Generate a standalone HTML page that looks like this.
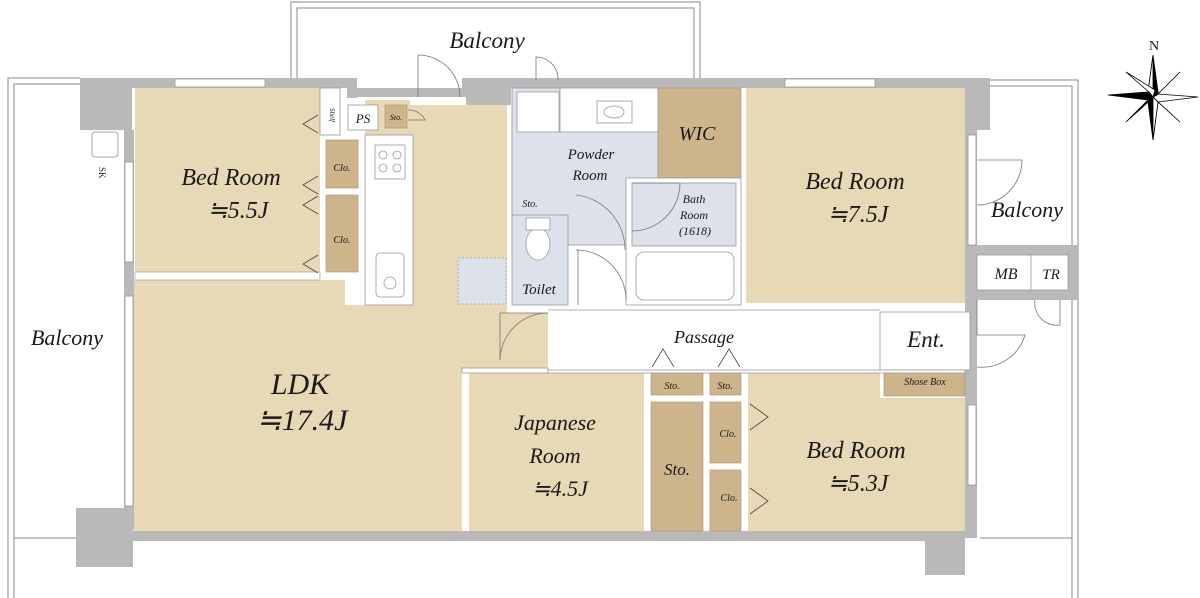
<!DOCTYPE html>
<html><head><meta charset="utf-8"><style>
html,body{margin:0;padding:0;background:#fff;width:1200px;height:598px;overflow:hidden}
svg{display:block}
text{font-family:"Liberation Serif",serif;font-style:italic;fill:#1a1a1a}
</style></head><body>
<svg width="1200" height="598" viewBox="0 0 1200 598" xmlns="http://www.w3.org/2000/svg">
<!-- balcony outlines -->
<g fill="none" stroke="#888" stroke-width="1">
<path d="M291 80 V2 H700 V80"/><path d="M297 80 V8 H694 V80"/>
<path d="M80 78 H8 V598"/><path d="M80 84 H14 V598"/>
<path d="M14 538 H78"/>
<path d="M990 80 H1078 V598"/><path d="M990 86 H1072 V598"/>
<path d="M980 538 H1072"/>
</g>
<!-- walls -->
<g fill="#b9b9b9">
<rect x="80" y="78" width="277" height="10"/>
<rect x="357" y="88" width="110" height="9"/>
<rect x="347" y="78" width="10" height="20"/>
<rect x="462" y="78" width="478" height="10"/>
<rect x="466" y="78" width="45" height="27"/>
<rect x="80" y="78" width="52" height="52"/>
<rect x="940" y="78" width="50" height="52"/>
<rect x="124" y="130" width="10" height="400"/>
<rect x="76" y="508" width="57" height="59"/>
<rect x="133" y="531" width="832" height="10"/>
<rect x="925" y="518" width="40" height="57"/>
<rect x="965" y="130" width="12" height="408"/>
<rect x="977" y="245" width="101" height="10"/>
<rect x="1068" y="245" width="10" height="55"/>
<rect x="977" y="290" width="101" height="10"/>
</g>
<!-- windows -->
<g fill="#fff" stroke="#999" stroke-width="0.8">
<rect x="175" y="79" width="90" height="8"/>
<rect x="125" y="162" width="8" height="100"/>
<rect x="125" y="296" width="8" height="210"/>
<rect x="968" y="405" width="8" height="80"/>
<rect x="785" y="79" width="90" height="8"/>
<rect x="968" y="135" width="8" height="110"/>
</g>
<!-- rooms -->
<g fill="#e8d9b6">
<rect x="135" y="88" width="185" height="184"/>
<path d="M134 280 H345 V305 H365 V100 H410 V105 H507 V313 H548 V368 H462 V531 H134 Z"/>
<rect x="469" y="373" width="175" height="158"/>
<path d="M748 373 H880 V398 H965 V531 H748 Z"/>
<rect x="746" y="88" width="219" height="215"/>
</g>
<g fill="#d6d0d2"><rect x="135" y="272" width="185" height="8" fill="#fff" stroke="#999" stroke-width="0.6"/></g>
<!-- closets -->
<g fill="#cdb48b" stroke="#a89070" stroke-width="0.6">
<rect x="326" y="140" width="32" height="48"/><rect x="326" y="195" width="32" height="77"/>
<rect x="385" y="105" width="22" height="23"/>
<rect x="658" y="88" width="83" height="90"/>
<rect x="651" y="373" width="52" height="22"/><rect x="710" y="373" width="31" height="22"/>
<rect x="651" y="402" width="52" height="129"/>
<rect x="710" y="402" width="31" height="61"/><rect x="710" y="470" width="31" height="61"/>
<rect x="884" y="372" width="81" height="24"/>
<rect x="512" y="193" width="35" height="18"/>
</g>
<!-- powder / toilet / bath -->
<g stroke="#999" stroke-width="0.8">
<rect x="512" y="88" width="146" height="157" fill="#dde1ec"/>
<rect x="512" y="215" width="56" height="90" fill="#dde1ec"/>
<rect x="626" y="178" width="115" height="127" fill="#fff"/>
<rect x="632" y="183" width="104" height="63" fill="#dde1ec"/>
<rect x="636" y="252" width="98" height="48" rx="8" fill="#fff"/>
<rect x="517" y="92" width="42" height="40" fill="#fff"/>
<rect x="598" y="100" width="35" height="22" fill="#fff"/>
<rect x="560" y="88" width="98" height="44" fill="#fff"/>
<rect x="597" y="101" width="35" height="22" fill="#fff"/>
<ellipse cx="614" cy="112" rx="10" ry="6" fill="#fff"/>
<ellipse cx="538" cy="244" rx="12" ry="16" fill="#fff"/>
<rect x="526" y="218" width="24" height="12" fill="#fff"/>
<rect x="458" y="258" width="48" height="46" fill="#dde1ec" stroke-dasharray="2 2"/>
<rect x="365" y="135" width="48" height="170" fill="#fff"/>
<rect x="375" y="145" width="30" height="34" fill="#fff"/>
<rect x="376" y="253" width="28" height="44" rx="4" fill="#fff"/>
<circle cx="390" cy="283" r="6" fill="#fff"/>
<circle cx="383" cy="155" r="4" fill="none"/><circle cx="397" cy="155" r="4" fill="none"/><circle cx="397" cy="168" r="4" fill="none"/><circle cx="383" cy="168" r="4" fill="none"/>
<rect x="320" y="88" width="20" height="47" fill="#fff"/>
<rect x="348" y="105" width="30" height="25" fill="#fff"/>
<rect x="977" y="255" width="91" height="35" fill="#fff"/>
<line x1="1031" y1="255" x2="1031" y2="290"/>
<rect x="880" y="312" width="90" height="58" fill="#fff"/>
<rect x="548" y="370" width="417" height="3" fill="#fff"/>
<rect x="462" y="368" width="86" height="5" fill="#fff"/>
<line x1="548" y1="310" x2="880" y2="310"/>
</g>
<!-- doors -->
<g fill="none" stroke="#777" stroke-width="0.8">
<path d="M418 97 V55 A42 42 0 0 1 460 97"/>
<path d="M536 80 V57 A22 22 0 0 1 558 80"/>
<path d="M548 313 H500 V360"/><path d="M500 360 A48 48 0 0 1 548 313"/>
<path d="M977 160 H1022 A45 45 0 0 1 977 205"/>
<path d="M977 300 V335 H1025 A45 45 0 0 1 977 367"/>
<path d="M1035 300 A22 22 0 0 0 1060 325 V300"/>
<path d="M576 195 A55 55 0 0 1 625 250"/>
<path d="M576 250 A50 50 0 0 1 626 300 M578 250 V305"/>
<path d="M632 183 H680 A48 48 0 0 1 632 231"/>
<path d="M408 110 A18 18 0 0 1 425 120 H408"/>
</g>
<!-- triangles -->
<g fill="none" stroke="#444" stroke-width="0.8">
<path d="M318 115 L303 124 L318 133"/><path d="M318 176 L303 185 L318 194"/><path d="M318 196 L303 205 L318 214"/><path d="M318 255 L303 264 L318 273"/>
<path d="M652 367 L663 349 L674 367"/><path d="M718 367 L729 349 L740 367"/>
<path d="M750 404 L768 417 L750 430"/><path d="M750 488 L768 501 L750 514"/>
</g>
<!-- compass -->
<g stroke="#000" stroke-width="0.8">
<polygon points="1153,55 1158,92 1153,97 1148,92" fill="#000"/>
<polygon points="1153,140 1148,102 1153,97 1158,102" fill="#000"/>
<polygon points="1108,95 1148,92 1153,97 1148,100" fill="#000"/>
<polygon points="1198,97 1158,102 1153,97 1158,94" fill="#fff"/>
<polygon points="1153,55 1148,92 1153,97" fill="#fff"/>
<polygon points="1153,140 1158,102 1153,97" fill="#fff"/>
<polygon points="1126,72 1150,93 1153,97 1155,90" fill="#fff"/>
<polygon points="1180,72 1157,95 1153,97 1160,92" fill="#000"/>
<polygon points="1126,122 1148,100 1153,97 1146,104" fill="#000"/>
<polygon points="1180,122 1156,100 1153,97 1159,103" fill="#fff"/>
</g>
<text x="1154" y="50" font-size="14" text-anchor="middle" style="font-style:normal">N</text>
<!-- labels -->
<g text-anchor="middle">
<text x="487" y="48" font-size="23">Balcony</text>
<text x="231" y="185" font-size="24">Bed Room</text>
<text x="238" y="218" font-size="24">≒5.5J</text>
<text x="300" y="394" font-size="30">LDK</text>
<text x="302" y="430" font-size="30">≒17.4J</text>
<text x="555" y="430" font-size="22">Japanese</text>
<text x="555" y="463" font-size="22">Room</text>
<text x="560" y="496" font-size="22">≒4.5J</text>
<text x="855" y="189" font-size="24">Bed Room</text>
<text x="858" y="222" font-size="24">≒7.5J</text>
<text x="856" y="458" font-size="24">Bed Room</text>
<text x="858" y="491" font-size="24">≒5.3J</text>
<text x="1027" y="217" font-size="22">Balcony</text>
<text x="67" y="345" font-size="22">Balcony</text>
<text x="704" y="343" font-size="18">Passage</text>
<text x="926" y="347" font-size="23">Ent.</text>
<text x="697" y="140" font-size="20">WIC</text>
<text x="591" y="159" font-size="15">Powder</text>
<text x="590" y="180" font-size="15">Room</text>
<text x="694" y="203" font-size="12">Bath</text>
<text x="694" y="219" font-size="12">Room</text>
<text x="695" y="235" font-size="12">(1618)</text>
<text x="539" y="294" font-size="15">Toilet</text>
<text x="363" y="123" font-size="13">PS</text>
<text x="396" y="120" font-size="8">Sto.</text>
<text x="342" y="171" font-size="10">Clo.</text>
<text x="342" y="243" font-size="10">Clo.</text>
<text x="530" y="207" font-size="10">Sto.</text>
<text x="672" y="389" font-size="10">Sto.</text>
<text x="725" y="389" font-size="10">Sto.</text>
<text x="677" y="475" font-size="17">Sto.</text>
<text x="728" y="437" font-size="10">Clo.</text>
<text x="729" y="501" font-size="10">Clo.</text>
<text x="925" y="385" font-size="10">Shose Box</text>
<text x="1006" y="279" font-size="16">MB</text>
<text x="1051" y="279" font-size="15">TR</text>
</g>
<text x="0" y="0" font-size="9" transform="translate(99,167) rotate(90)" style="font-style:normal" fill="#333">SK</text>
<rect x="92" y="132" width="26" height="25" rx="3" fill="#fff" stroke="#888" stroke-width="0.8"/>
<text x="0" y="0" font-size="7" transform="translate(330,108) rotate(90)">Shelf</text>
</svg>
</body></html>
